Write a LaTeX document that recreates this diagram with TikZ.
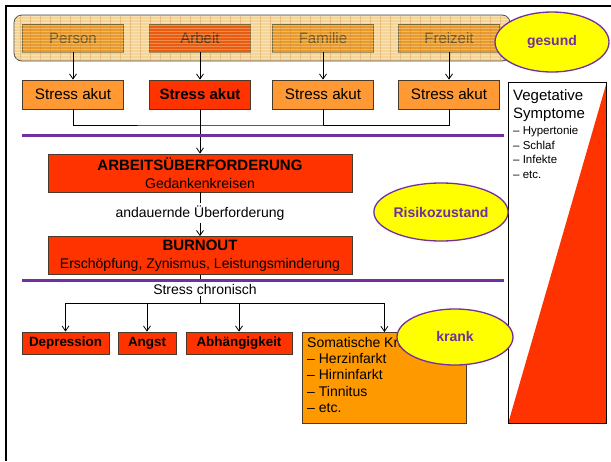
\documentclass[tikz,border=0pt]{standalone}
\usepackage{fontspec}
\setmainfont{Liberation Sans}
\usetikzlibrary{shapes.geometric,arrows.meta}
\definecolor{purp}{HTML}{7030A0}
\definecolor{redf}{HTML}{FF3300}
\definecolor{orgf}{HTML}{FF9933}
\definecolor{somf}{HTML}{FF9900}
\definecolor{banf}{HTML}{F5D596}
\definecolor{tbox}{HTML}{E99A28}
\definecolor{tboxr}{HTML}{EC5A0C}
\definecolor{ttext}{HTML}{6A5520}
\definecolor{yel}{HTML}{FFFF00}
\definecolor{bordc}{HTML}{4A3A2A}
\begin{document}
\begin{tikzpicture}[x=1pt,y=-1pt,
  topbox/.style={draw=ttext!90,line width=0.7pt,fill=tbox,minimum width=101pt,minimum height=28pt,inner sep=0pt,text=ttext,font=\fontsize{15}{18}\selectfont},
  stressbox/.style={draw=bordc,line width=0.8pt,fill=orgf,minimum width=101pt,minimum height=29pt,inner sep=0pt,font=\fontsize{15.2}{18}\selectfont},
  bigbox/.style={draw=bordc,line width=0.8pt,fill=redf,minimum width=304pt,minimum height=38pt,inner sep=0pt,align=center,font=\fontsize{14}{18}\selectfont},
  smallbox/.style={draw=bordc,line width=0.8pt,fill=redf,minimum height=22pt,inner sep=0pt,font=\bfseries\fontsize{13.4}{15}\selectfont},
  oval/.style={ellipse,draw=purp,line width=1.3pt,fill=yel,inner sep=0pt,text=purp,font=\bfseries\fontsize{14}{16}\selectfont},
  arr/.style={-{Straight Barb[length=5pt,width=7pt]},line width=0.8pt},
  ln/.style={line width=0.8pt},
  purpline/.style={purp,line width=3pt}]
\useasboundingbox (0,0) rectangle (611,461);
\fill[white] (0,0) rectangle (611,461);
% frame
\draw[line width=2pt] (611,6) -- (6,6) -- (6,461);
% banner
\node[draw=black!70,line width=0.8pt,fill=banf,rounded corners=8pt,minimum width=496pt,minimum height=46pt,inner sep=0pt] (banner) at (262,38) {};
\node[topbox] (p1) at (73,38) {Person};
\node[topbox,fill=tboxr,text=ttext!70!black] (p2) at (200,38) {Arbeit};
\node[topbox] (p3) at (323,38) {Familie};
\node[topbox] (p4) at (449,38) {Freizeit};
\begin{scope}
\clip[rounded corners=8pt] (14,15) rectangle (510,61);
\foreach \yy in {16,19,...,61} \draw[white,opacity=0.3,line width=1pt] (14,\yy) -- (510,\yy);
\foreach \xx in {20,30,...,510} \draw[brown!80!orange,opacity=0.3,line width=0.5pt] (\xx,15) -- (\xx,61);
\end{scope}
% stress row
\node[stressbox] (s1) at (73,94.5) {Stress akut};
\node[stressbox,fill=redf,font=\bfseries\fontsize{15}{18}\selectfont] (s2) at (200,94.5) {Stress akut};
\node[stressbox] (s3) at (323,94.5) {Stress akut};
\node[stressbox] (s4) at (449,94.5) {Stress akut};
\draw[arr] (p1) -- (s1);
\draw[arr] (p2) -- (s2);
\draw[arr] (p3) -- (s3);
\draw[arr] (p4) -- (s4);
\coordinate (j) at (200,125);
\draw[ln] (s1.south) |- (j) -| (s4.south);
\draw[ln] (s3.south) -- (s3.south |- j);
% middle
\node[bigbox] (ab) at (200,173) {{\bfseries\fontsize{15}{18}\selectfont ARBEITSÜBERFORDERUNG}\\Gedankenkreisen};
\node[font=\fontsize{14}{16}\selectfont,inner sep=2pt] (au) at (200,213) {andauernde Überforderung};
\node[bigbox] (bo) at (200,255.5) {{\bfseries\fontsize{15}{18}\selectfont BURNOUT}\\Erschöpfung, Zynismus, Leistungsminderung};
\draw[arr] (s2) -- (ab);
\draw[ln] (ab) -- (au);
\draw[arr] (au) -- (bo);
% bottom
\coordinate (d) at (200,303);
\draw[ln] (bo.south) -- (d);
\node[smallbox,minimum width=87pt] (dep) at (65.5,343) {Depression};
\node[smallbox,minimum width=58pt] (ang) at (147,343) {Angst};
\node[smallbox,minimum width=106pt] (abh) at (239,343) {Abhängigkeit};
\node[draw=bordc,line width=0.8pt,fill=somf,minimum width=164pt,minimum height=91pt,inner sep=0pt,anchor=north west] (som) at (302,332) {};
\node[anchor=north west,inner sep=0pt,align=left,font=\fontsize{14}{16.25}\selectfont] (somt) at (307,337) {Somatische Kra\\– Herzinfarkt\\– Hirninfarkt\\– Tinnitus\\– etc.};
\draw[arr] (d) -| (dep.north);
\draw[arr] (d) -| (som.north);
\draw[arr] (ang.north |- d) -- (ang.north);
\draw[arr] (abh.north |- d) -- (abh.north);
% purple lines
\draw[purpline] (22,135) -- (504,135);
\draw[purpline] (22,280) -- (504,280);
\node[fill=white,inner sep=1.5pt,font=\fontsize{14}{16}\selectfont] (sc) at (205,289) {Stress chronisch};
% vegetative
\node[draw=black,line width=0.8pt,minimum width=98pt,minimum height=341pt,inner sep=0pt,anchor=north west] (veg) at (508,82) {};
\fill[redf] (veg.south west) -- (veg.south east) -- (veg.north east) -- cycle;
\draw[line width=0.8pt] (veg.north west) rectangle (veg.south east);
\node[anchor=north west,inner sep=0pt,align=left,font=\fontsize{15}{18}\selectfont] (vegt) at (513,89) {Vegetative\\Symptome};
\node[anchor=north west,inner sep=0pt,align=left,font=\fontsize{11.5}{14.5}\selectfont] (vegl) at (513,126) {– Hypertonie\\– Schlaf\\– Infekte\\– etc.};
% ovals
\node[oval,minimum width=114pt,minimum height=60pt] (ges) at (552,42) {gesund};
\node[oval,minimum width=114pt,minimum height=58pt] (ris) at (441,212) {Risikozustand};
\node[oval,minimum width=116pt,minimum height=56pt] (kr) at (455,337) {\raisebox{2pt}{krank}};
\end{tikzpicture}
\end{document}
